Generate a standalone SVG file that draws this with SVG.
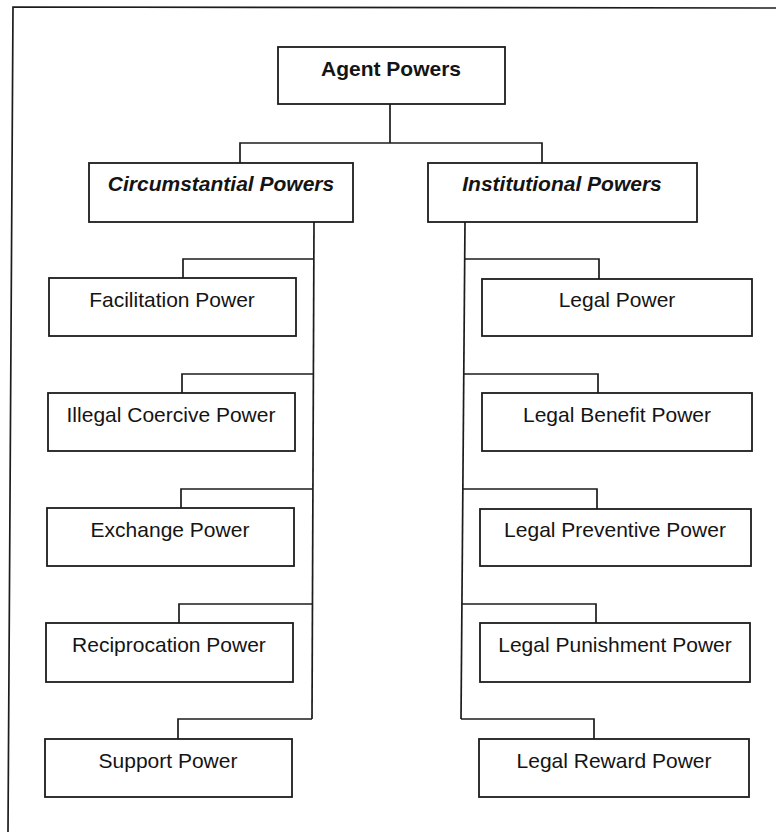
<svg xmlns="http://www.w3.org/2000/svg" width="777" height="832" viewBox="0 0 777 832">
  <style>
    .box { fill: #ffffff; stroke: #1c1c1c; stroke-width: 1.8; }
    .wire { fill: none; stroke: #1c1c1c; stroke-width: 1.7; }
    .lbl { font-family: "Liberation Sans", Arial, sans-serif; font-size: 21px; fill: #141414; text-anchor: middle; }
    .root { font-weight: bold; }
    .group { font-weight: bold; font-style: italic; }
  </style>
  <rect width="777" height="832" fill="#ffffff"/>

  <!-- page frame (left and top rules) -->
  <path class="wire" d="M8,832 L13,7 L776,8"/>

  <g id="connectors">
    <!-- root to the two categories -->
    <path class="wire" d="M390,104 V143 M240,163 V143 H542 V163"/>
    <!-- circumstantial trunk and branches -->
    <path class="wire" d="M314,222 L312,719"/>
    <path class="wire" d="M313,259 H183 V278"/>
    <path class="wire" d="M313,374 H182 V393"/>
    <path class="wire" d="M313,489 H181 V508"/>
    <path class="wire" d="M312,604 H179 V623"/>
    <path class="wire" d="M312,719 H178 V739"/>
    <!-- institutional trunk and branches -->
    <path class="wire" d="M465,222 L461,719"/>
    <path class="wire" d="M464,259 H599 V279"/>
    <path class="wire" d="M463,374 H598 V393"/>
    <path class="wire" d="M463,489 H597 V509"/>
    <path class="wire" d="M462,604 H596 V623"/>
    <path class="wire" d="M461,719 H594 V739"/>
  </g>

  <g id="agent-powers">
    <rect class="box" x="278" y="47" width="227" height="57"/>
    <text class="lbl root" x="391" y="76">Agent Powers</text>
  </g>

  <g id="circumstantial-powers">
    <rect class="box" x="89" y="163" width="264" height="59"/>
    <text class="lbl group" x="221" y="191">Circumstantial Powers</text>
  </g>
  <g id="institutional-powers">
    <rect class="box" x="428" y="163" width="269" height="59"/>
    <text class="lbl group" x="562" y="191">Institutional Powers</text>
  </g>

  <g id="facilitation-power">
    <rect class="box" x="49" y="278" width="247" height="58"/>
    <text class="lbl" x="172" y="307">Facilitation Power</text>
  </g>
  <g id="illegal-coercive-power">
    <rect class="box" x="48" y="393" width="247" height="58"/>
    <text class="lbl" x="171" y="422">Illegal Coercive Power</text>
  </g>
  <g id="exchange-power">
    <rect class="box" x="47" y="508" width="247" height="58"/>
    <text class="lbl" x="170" y="537">Exchange Power</text>
  </g>
  <g id="reciprocation-power">
    <rect class="box" x="46" y="623" width="247" height="59"/>
    <text class="lbl" x="169" y="652">Reciprocation Power</text>
  </g>
  <g id="support-power">
    <rect class="box" x="45" y="739" width="247" height="58"/>
    <text class="lbl" x="168" y="768">Support Power</text>
  </g>

  <g id="legal-power">
    <rect class="box" x="482" y="279" width="270" height="57"/>
    <text class="lbl" x="617" y="307">Legal Power</text>
  </g>
  <g id="legal-benefit-power">
    <rect class="box" x="482" y="393" width="270" height="58"/>
    <text class="lbl" x="617" y="422">Legal Benefit Power</text>
  </g>
  <g id="legal-preventive-power">
    <rect class="box" x="480" y="509" width="271" height="57"/>
    <text class="lbl" x="615" y="537">Legal Preventive Power</text>
  </g>
  <g id="legal-punishment-power">
    <rect class="box" x="480" y="623" width="270" height="59"/>
    <text class="lbl" x="615" y="652">Legal Punishment Power</text>
  </g>
  <g id="legal-reward-power">
    <rect class="box" x="479" y="739" width="270" height="58"/>
    <text class="lbl" x="614" y="768">Legal Reward Power</text>
  </g>
</svg>
